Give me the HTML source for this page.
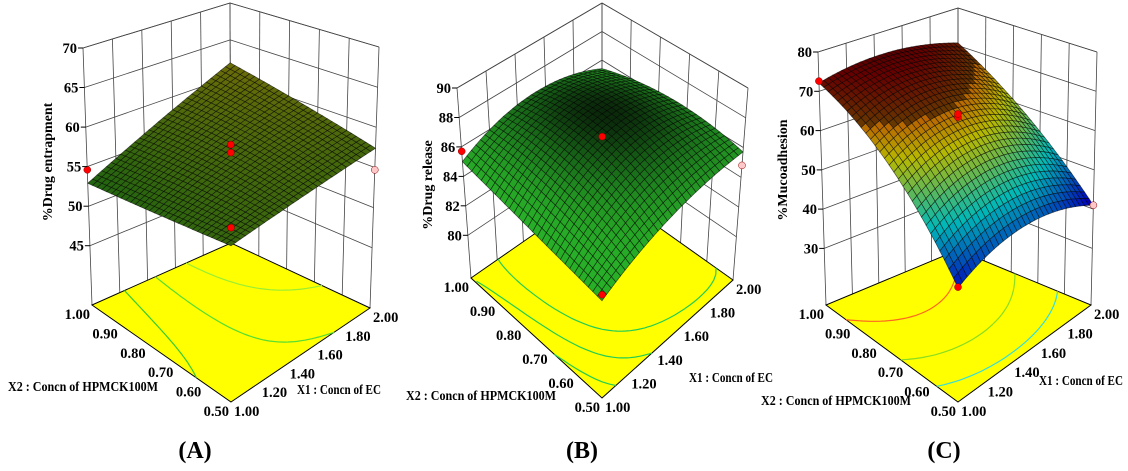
<!DOCTYPE html>
<html><head><meta charset="utf-8">
<style>
html,body{margin:0;padding:0;background:#fff;}
svg{display:block;}
text{font-family:"Liberation Serif",serif;font-weight:bold;fill:#000;}
</style></head>
<body>
<svg id="chart" width="1128" height="471" viewBox="0 0 1128 471" xmlns="http://www.w3.org/2000/svg">
<rect x="0" y="0" width="1128" height="471" fill="#fff"/>
</svg>
<script>
// ---- Data (3x3 factorial design; rows X2 = 0.50, 0.75, 1.00; cols X1 = 1.0, 1.5, 2.0) ----
const x1Levels = [1.0, 1.5, 2.0];
const x2Levels = [0.5, 0.75, 1.0];
const entrapRows = [[55.7, 56.6, 57.4], [54.3, 57.5, 59.7], [52.9, 57.4, 61.9]];
const releaseRows = [[83.5, 85.3, 85.7], [84.2, 87.2, 86.3], [85.0, 86.6, 85.4]];
const mucoRows = [[42.8, 47.2, 41.0], [62.0, 66.4, 57.9], [72.1, 74.2, 70.7]];
// observed design points: [X1, X2, value, belowSurface]
const entrapPoints = [[1.0, 1.0, 54.6, 0], [1.5, 0.75, 58.8, 0], [1.5, 0.75, 57.8, 0], [1.0, 0.5, 57.8, 0], [2.0, 0.5, 54.7, 1]];
const releasePoints = [[1.0, 1.0, 85.7, 0], [1.5, 0.75, 87.2, 0], [1.0, 0.5, 83.9, 0], [2.0, 0.5, 84.8, 1]];
const mucoPoints = [[1.0, 1.0, 72.6, 0], [1.5, 0.75, 65.8, 0], [1.5, 0.75, 66.6, 0], [1.0, 0.5, 43.0, 0], [2.0, 0.5, 41.0, 1]];
const x1Ticks = ["1.00", "1.20", "1.40", "1.60", "1.80", "2.00"];
const x2Ticks = ["0.50", "0.60", "0.70", "0.80", "0.90", "1.00"];
const entrapZTicks = [45, 50, 55, 60, 65, 70];
const releaseZTicks = [80, 82, 84, 86, 88, 90];
const mucoZTicks = [30, 40, 50, 60, 70, 80];
const entrapLevels = [55, 57, 59];
const releaseLevels = [84, 85, 86];
const mucoLevels = [50, 60, 70];

const NS = "http://www.w3.org/2000/svg";
const svg = document.getElementById("chart");
function mk(tag, attrs, parent) {
  const e = document.createElementNS(NS, tag);
  for (const k in attrs) e.setAttribute(k, attrs[k]);
  (parent || svg).appendChild(e);
  return e;
}
function lerp(a, b, t) { return a + (b - a) * t; }
function jet(t) {
  t = Math.max(0, Math.min(1, t));
  const r = Math.max(0, Math.min(1, 1.5 - Math.abs(4 * t - 3)));
  const g = Math.max(0, Math.min(1, 1.5 - Math.abs(4 * t - 2)));
  const b = Math.max(0, Math.min(1, 1.5 - Math.abs(4 * t - 1)));
  return [r * 255, g * 255, b * 255];
}
function rgb(c, k) { return "rgb(" + Math.round(c[0] * k) + "," + Math.round(c[1] * k) + "," + Math.round(c[2] * k) + ")"; }

function panel(cfg) {
  const g = mk("g", {});
  
  
  const zmin = cfg.z0, zmax = cfg.zmax;
  function P(u, v, z) {
    const c = cfg.corners;
    const w = [(1 - u) * (1 - v), u * (1 - v), (1 - u) * v, u * v];
    const keys = ["F", "R", "L", "B"];
    let fx = 0, fy = 0, tx = 0, ty = 0;
    keys.forEach((k, i) => { fx += w[i] * c[k][0]; fy += w[i] * c[k][1]; tx += w[i] * c[k][2]; ty += w[i] * c[k][3]; });
    const t = (z - zmin) / (zmax - zmin);
    return [lerp(fx, tx, t), lerp(fy, ty, t)];
  }
  const uOf = x1 => (x1 - x1Levels[0]) / (x1Levels[2] - x1Levels[0]);
  const vOf = x2 => (x2 - x2Levels[0]) / (x2Levels[2] - x2Levels[0]);
  const Lb = [s => 2 * (s - 0.5) * (s - 1), s => -4 * s * (s - 1), s => 2 * s * (s - 0.5)];
  function Z(u, v) {
    let z = 0;
    for (let i = 0; i < 3; i++) for (let j = 0; j < 3; j++) z += Lb[i](v) * Lb[j](u) * cfg.rows[i][j];
    return z;
  }
  const line = (a, b, attrs, name) => {
    const e = mk("line", Object.assign({ x1: a[0].toFixed(1), y1: a[1].toFixed(1), x2: b[0].toFixed(1), y2: b[1].toFixed(1) }, attrs), g);
    
    
    return e;
  };
  const gridStyle = { stroke: "#444", "stroke-width": 0.8 };
  for (let i = 0; i <= 5; i++) {
    const s = i / 5;
    line(P(s, 1, zmin), P(s, 1, zmax), gridStyle, "left-wall-gridline");
    line(P(1, s, zmin), P(1, s, zmax), gridStyle, "right-wall-gridline");
  }
  cfg.zTicks.forEach(z => {
    line(P(0, 1, z), P(1, 1, z), gridStyle, "left-wall-z-gridline");
    line(P(1, 1, z), P(1, 0, z), gridStyle, "right-wall-z-gridline");
  });
  line(P(0, 1, zmax), P(1, 1, zmax), gridStyle, "left-wall-top");
  line(P(1, 1, zmax), P(1, 0, zmax), gridStyle, "right-wall-top");
  const fl = [P(0, 0, zmin), P(1, 0, zmin), P(1, 1, zmin), P(0, 1, zmin)];
  const floor = mk("polygon", { points: fl.map(p => p[0].toFixed(1) + "," + p[1].toFixed(1)).join(" "), fill: "#ffff00", stroke: "#000", "stroke-width": 1 }, g);
  
  
  const N = 30;
  const grid = [];
  for (let i = 0; i <= N; i++) { grid.push([]); for (let j = 0; j <= N; j++) grid[i].push(Z(j / N, i / N)); }
  cfg.levels.forEach((lev, li) => {
    let d = "";
    for (let i = 0; i < N; i++) for (let j = 0; j < N; j++) {
      const pts = [];
      const cs = [[j, i], [j + 1, i], [j + 1, i + 1], [j, i + 1]];
      for (let k = 0; k < 4; k++) {
        const a = cs[k], b = cs[(k + 1) % 4];
        const za = grid[a[1]][a[0]], zb = grid[b[1]][b[0]];
        if ((za - lev) * (zb - lev) < 0) {
          const t = (lev - za) / (zb - za);
          pts.push(P(lerp(a[0], b[0], t) / N, lerp(a[1], b[1], t) / N, zmin));
        }
      }
      if (pts.length >= 2) d += "M" + pts[0][0].toFixed(1) + "," + pts[0][1].toFixed(1) + "L" + pts[1][0].toFixed(1) + "," + pts[1][1].toFixed(1);
    }
    const c = mk("path", { d: d, stroke: cfg.contourColor(li), "stroke-width": 1.2, fill: "none" }, g);
    
    
  });
  let zlo = Infinity, zhi = -Infinity;
  grid.forEach(r => r.forEach(z => { zlo = Math.min(zlo, z); zhi = Math.max(zhi, z); }));
  const sg = mk("g", {}, g);
  
  
  const quads = [];
  for (let i = 0; i < N; i++) for (let j = 0; j < N; j++) quads.push([i, j]);
  quads.sort((a, b) => (b[0] + b[1]) - (a[0] + a[1]));
  quads.forEach(([i, j]) => {
    const cs = [[j, i], [j + 1, i], [j + 1, i + 1], [j, i + 1]];
    const pts = cs.map(c => P(c[0] / N, c[1] / N, grid[c[1]][c[0]]));
    const zc = (grid[i][j] + grid[i][j + 1] + grid[i + 1][j] + grid[i + 1][j + 1]) / 4;
    const col = cfg.color((zc - zlo) / (zhi - zlo));
    const q = mk("polygon", { points: pts.map(p => p[0].toFixed(1) + "," + p[1].toFixed(1)).join(" "), fill: col, stroke: "rgba(0,0,0,0.6)", "stroke-width": 0.7 }, sg);
    
    
  });
  cfg.points.forEach(pt => {
    const p = P(uOf(pt[0]), vOf(pt[1]), pt[2]);
    const c = mk("circle", { cx: p[0].toFixed(1), cy: p[1].toFixed(1), r: 3.5, fill: pt[3] ? "#ffc8c8" : "#ff0000", stroke: "#800", "stroke-width": 0.5 }, g);
    
    
  });
  cfg.zTicks.forEach(z => {
    const p = P(0, 1, z);
    line(p, [p[0] - 5, p[1]], { stroke: "#000", "stroke-width": 1 }, "z-tick");
    const t = mk("text", { x: (p[0] - 6).toFixed(1), y: (p[1] + 5).toFixed(1), "text-anchor": "end", "font-size": 14.5 }, g);
    t.textContent = z;
    
    
  });
  x1Ticks.forEach((lab, i) => {
    const p = P(i / 5, 0, zmin);
    const t = mk("text", { x: (p[0] + 3).toFixed(1), y: (p[1] + 14).toFixed(1), "font-size": 14.5 }, g);
    t.textContent = lab;
    
    
  });
  x2Ticks.forEach((lab, i) => {
    const p = P(0, i / 5, zmin);
    const t = mk("text", { x: (p[0] - 2).toFixed(1), y: (p[1] + 14).toFixed(1), "text-anchor": "end", "font-size": 14.5 }, g);
    t.textContent = lab;
    
    
  });
  const t1 = mk("text", { x: cfg.x1Title[0], y: cfg.x1Title[1], "font-size": 14, textLength: 84, lengthAdjust: "spacingAndGlyphs" }, g);
  t1.textContent = "X1 : Concn of EC";
  
  
  const t2 = mk("text", { x: cfg.x2Title[0], y: cfg.x2Title[1], "font-size": 14, textLength: 150, lengthAdjust: "spacingAndGlyphs" }, g);
  t2.textContent = "X2 : Concn of HPMCK100M";
  
  
  const tz = mk("text", { x: 0, y: 0, "font-size": 14, "text-anchor": "middle", transform: "translate(" + cfg.zTitle[0] + "," + cfg.zTitle[1] + ") rotate(-90)" }, g);
  tz.textContent = cfg.zLabel;
  
  
  const pl = mk("text", { x: cfg.tag[0], y: cfg.tag[1], "font-size": 24, "text-anchor": "middle" }, g);
  pl.textContent = cfg.tagText;
  
  
}

panel({
  name: "panel-a-drug-entrapment", rows: entrapRows, points: entrapPoints, zTicks: entrapZTicks, levels: entrapLevels,
  z0: 37.5, zmax: 70,
  corners: { F: [231, 402, 231, 123], R: [370, 308, 379, 47], L: [92, 305, 83, 48], B: [231, 243, 230, 3] },
  color: t => rgb([lerp(40, 135, t), lerp(125, 135, t), lerp(20, 10, t)], 0.8),
  contourColor: i => ["#33cc33", "#55dd33", "#99ee33"][i],
  x1Title: [297, 394], x2Title: [8, 391], zTitle: [52, 162], zLabel: "%Drug entrapment", tag: [195, 458], tagText: "(A)"
});
panel({
  name: "panel-b-drug-release", rows: releaseRows, points: releasePoints, zTicks: releaseZTicks, levels: releaseLevels,
  z0: 77.1, zmax: 90,
  corners: { F: [602, 398, 602, 202], R: [733, 280, 748, 88], L: [471, 278, 457, 88], B: [602, 187, 602, 3] },
  color: t => rgb([lerp(40, 10, Math.pow(t, 3)), lerp(175, 40, Math.pow(t, 3)), lerp(40, 10, Math.pow(t, 3))], 1),
  contourColor: i => ["#22cc55", "#22cc55", "#22cc55"][i],
  x1Title: [689, 382], x2Title: [406, 400], zTitle: [432, 185], zLabel: "%Drug release", tag: [582, 458], tagText: "(B)"
});
panel({
  name: "panel-c-mucoadhesion", rows: mucoRows, points: mucoPoints, zTicks: mucoZTicks, levels: mucoLevels,
  z0: 15.6, zmax: 80,
  corners: { F: [958, 402, 958, 132], R: [1091, 305, 1097, 52], L: [826, 305, 818, 52], B: [958, 250, 958, 8] },
  color: t => rgb(jet(0.1 + t * 0.8), t > 0.8 ? 0.4 : 0.72),
  contourColor: i => ["#33dddd", "#88dd22", "#ff6622"][i],
  x1Title: [1039, 385], x2Title: [761, 405], zTitle: [787, 170], zLabel: "%Mucoadhesion", tag: [944, 458], tagText: "(C)"
});
</script>
</body></html>
